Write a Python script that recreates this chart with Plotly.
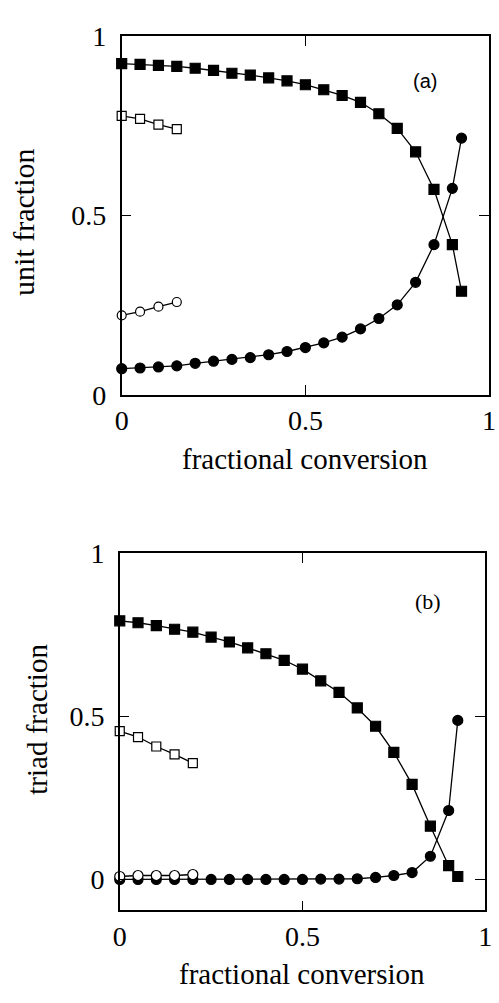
import plotly.graph_objects as go

# ---------------- data ----------------
# panel (a): unit fraction vs fractional conversion
conv_a = [0, 0.05, 0.10, 0.15, 0.20, 0.25, 0.30, 0.35, 0.40, 0.45, 0.50,
          0.55, 0.60, 0.65, 0.70, 0.75, 0.80, 0.85, 0.90, 0.925]
a_sq_filled = [0.924, 0.922, 0.919, 0.916, 0.911, 0.905, 0.897, 0.892, 0.884, 0.876,
               0.865, 0.851, 0.835, 0.816, 0.784, 0.743, 0.678, 0.573, 0.419, 0.289]
a_ci_filled = [0.073, 0.075, 0.078, 0.081, 0.088, 0.094, 0.099, 0.104, 0.112, 0.121,
               0.132, 0.145, 0.161, 0.184, 0.213, 0.251, 0.314, 0.419, 0.576, 0.716]
conv_a_open = [0, 0.05, 0.10, 0.15]
a_sq_open = [0.778, 0.770, 0.754, 0.741]
a_ci_open = [0.222, 0.232, 0.246, 0.259]

# panel (b): triad fraction vs fractional conversion
conv_b = [0, 0.05, 0.10, 0.15, 0.20, 0.25, 0.30, 0.35, 0.40, 0.45, 0.50,
          0.55, 0.60, 0.65, 0.70, 0.75, 0.80, 0.85, 0.90, 0.925]
b_sq_filled = [0.792, 0.786, 0.777, 0.766, 0.757, 0.742, 0.727, 0.709, 0.691, 0.671,
               0.644, 0.608, 0.573, 0.525, 0.469, 0.389, 0.291, 0.163, 0.042, 0.009]
b_ci_filled = [0.000, 0.000, 0.000, 0.000, 0.000, 0.000, 0.000, 0.000, 0.000, 0.000,
               0.000, 0.001, 0.001, 0.002, 0.006, 0.012, 0.021, 0.071, 0.211, 0.487]
conv_b_open = [0, 0.05, 0.10, 0.15, 0.20]
b_sq_open = [0.454, 0.436, 0.407, 0.383, 0.356]
b_ci_open = [0.009, 0.012, 0.012, 0.012, 0.015]

tick_vals = [0, 0.5, 1]
tick_text = ["0", "0.5", "1"]

SERIF = "Liberation Serif"

fig = go.Figure()

def add(x, y, symbol, filled, xa, ya, size):
    fig.add_trace(go.Scatter(
        x=x, y=y, mode="lines+markers", xaxis=xa, yaxis=ya,
        line=dict(color="black", width=1.3),
        marker=dict(symbol=symbol, size=size,
                    color="black" if filled else "white",
                    line=dict(color="black", width=1.2)),
        cliponaxis=False, showlegend=False))

add(conv_a, a_sq_filled, "square", True, "x", "y", 10)
add(conv_a, a_ci_filled, "circle", True, "x", "y", 10)
add(conv_a_open, a_sq_open, "square", False, "x", "y", 9)
add(conv_a_open, a_ci_open, "circle", False, "x", "y", 9)

add(conv_b, b_sq_filled, "square", True, "x2", "y2", 10)
add(conv_b, b_ci_filled, "circle", True, "x2", "y2", 10)
add(conv_b_open, b_sq_open, "square", False, "x2", "y2", 9)
add(conv_b_open, b_ci_open, "circle", False, "x2", "y2", 10)

W, H = 499, 1003

axis_common = dict(
    tickvals=tick_vals, ticktext=tick_text, ticks="inside", ticklen=10,
    tickwidth=1.3, tickcolor="black", showline=True, linecolor="black",
    linewidth=1.5, mirror="ticks", showgrid=False, zeroline=False,
    tickfont=dict(family=SERIF, size=28, color="black"),
)

fig.update_layout(
    width=W, height=H, margin=dict(l=0, r=0, t=0, b=0),
    paper_bgcolor="white", plot_bgcolor="white",
    xaxis=dict(domain=[118 / W, 496 / W], range=[0, 1], anchor="y",
               ticklabelstandoff=0, **axis_common),
    yaxis=dict(domain=[1 - 392 / H, 1 - 22 / H], range=[0, 1], anchor="x",
               ticklabelstandoff=8, **axis_common),
    xaxis2=dict(domain=[116 / W, 492 / W], range=[0, 1], anchor="y2",
                ticklabelstandoff=0, **axis_common),
    yaxis2=dict(domain=[1 - 924 / H, 1 - 555 / H], range=[-0.095, 1], anchor="x2",
                ticklabelstandoff=8, **axis_common),
)

annots = [
    dict(text="fractional conversion", x=307 / W, y=1 - 458 / H, font=dict(size=29, family=SERIF)),
    dict(text="fractional conversion", x=304 / W, y=1 - 990 / H, font=dict(size=29, family=SERIF)),
    dict(text="unit fraction", x=17 / W, y=1 - 214 / H, textangle=-90, font=dict(size=30, family=SERIF)),
    dict(text="triad fraction", x=30 / W, y=1 - 727 / H, textangle=-90, font=dict(size=29, family=SERIF)),
    dict(text="(a)", x=430 / W, y=1 - 68 / H, font=dict(size=20, family="Liberation Sans")),
    dict(text="(b)", x=433 / W, y=1 - 605 / H, font=dict(size=22, family=SERIF)),
]
for a in annots:
    a.update(xref="paper", yref="paper", showarrow=False, xanchor="center", yanchor="middle")
    a["font"]["color"] = "black"
    fig.add_annotation(**a)

fig.write_html("out.html")
